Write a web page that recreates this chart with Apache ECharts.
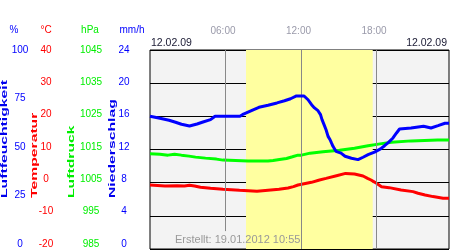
<!DOCTYPE html>
<html>
<head>
<meta charset="utf-8">
<script src="https://cdn.jsdelivr.net/npm/echarts@6/dist/echarts.min.js"></script>
<style>html,body{margin:0;padding:0;background:#fff}#c{width:450px;height:250px}</style>
</head>
<body>
<div id="c"></div>
<script>
// ---- data ----
const dateLabel = '12.02.09';
const createdLabel = 'Erstellt: 19.01.2012 10:55';
const xMax = 23.76;
const tickHours = [6, 12, 18];
const timeLabels = ['06:00', '12:00', '18:00'];
const daylight = [7.63, 17.70];

const humTicks = [0, 25, 50, 75, 100];
const tempTicks = [-20, -10, 0, 10, 20, 30, 40];
const presTicks = [985, 995, 1005, 1015, 1025, 1035, 1045];
const rainTicks = [0, 4, 8, 12, 16, 20, 24];

const humHours = [0,0.79,1.51,2.03,2.50,3.14,3.74,4.21,4.81,5.17,7.15,7.43,7.79,8.15,8.66,9.38,10.09,10.69,11.17,11.64,12.24,12.56,12.84,13.07,13.35,13.55,13.67,13.83,13.99,14.15,14.31,14.42,14.54,14.78,15.18,15.50,16.01,16.53,16.93,17.33,17.84,18.32,18.64,18.95,19.31,19.59,19.83,20.74,21.74,22.33,22.89,23.44,23.76];
const humidity = [66.7,65.7,64.7,63.7,62.7,61.8,62.8,63.8,65.0,66.7,66.7,67.8,68.8,69.8,71.2,72.2,73.4,74.5,75.5,76.9,76.9,75.0,72.5,70.9,69.5,67.5,65.0,62.5,59.9,56.6,54.9,53.3,51.6,49.1,48.2,46.6,45.6,44.9,46.1,47.4,48.7,50.3,51.9,53.6,55.8,58.3,60.3,60.8,61.7,60.8,62.0,63.2,63.2];

const presHours = [0,0.79,1.43,1.95,2.50,3.10,3.62,4.41,5.28,5.80,7.79,9.38,9.78,10.29,10.85,11.32,11.76,12.04,12.72,13.75,15.06,16.25,17.33,18.28,19.19,20.78,22.85,23.76];
const pressure = [1013.7,1013.6,1013.3,1013.6,1013.3,1013.0,1012.7,1012.4,1012.1,1011.8,1011.5,1011.5,1011.7,1012.0,1012.3,1012.8,1013.3,1013.3,1013.9,1014.3,1014.8,1015.4,1016.1,1016.7,1017.2,1017.6,1017.9,1017.9];

const tempHours = [0,1.19,2.15,2.74,3.14,3.54,4.01,4.81,5.80,7.11,8.50,9.38,10.25,10.97,11.40,11.76,12.83,13.47,13.99,14.82,15.54,16.25,16.93,17.29,17.56,17.88,18.40,19.00,19.95,20.90,21.30,21.86,22.49,23.29,23.76];
const temperature = [-0.7,-1.0,-0.9,-1.0,-0.8,-1.0,-1.4,-1.7,-2.0,-2.3,-2.6,-2.3,-2.0,-1.6,-1.2,-0.7,0.1,0.8,1.3,2.1,2.8,2.6,2.0,1.3,0.8,0.1,-1.2,-1.5,-2.2,-2.7,-3.2,-3.7,-4.2,-4.7,-4.7];

// ---- chart ----
const FONT = 'Liberation Sans, Arial, sans-serif';
const zip = (a, b) => a.map((v, i) => [v, b[i]]);
const rng = t => ({min: t[0], max: t[t.length - 1], interval: t[1] - t[0]});

function labelAxis(ticks, color, offset) {
  return Object.assign({
    type: 'value', gridIndex: 1, position: 'left', offset: offset,
    axisLine: {show: false}, axisTick: {show: false}, splitLine: {show: false},
    axisLabel: {color: color, fontSize: 10, fontFamily: FONT, margin: 0, align: 'center',
      formatter: v => { const i = ticks.indexOf(v); return i >= 0 ? String(ticks[i]) : ''; }}
  }, rng(ticks));
}

function vtitle(text, x, color) {
  return {type: 'text', x: x, y: 198, rotation: Math.PI / 2, scaleX: 1.85, scaleY: 1, z: 10,
    style: {text: text, fill: color, font: 'bold 8.5px ' + FONT, textAlign: 'left', textVerticalAlign: 'middle'}};
}
function htext(text, x, y, color, size, align) {
  return {type: 'text', x: x, y: y, z: 10,
    style: {text: text, fill: color, font: size + 'px ' + FONT, textAlign: align, textVerticalAlign: 'middle'}};
}

const chart = echarts.init(document.getElementById('c'), null, {renderer: 'canvas'});
chart.setOption({
  animation: false,
  grid: [
    {left: 150, top: 50, width: 299, height: 199, show: true, backgroundColor: '#f3f3f3', borderColor: '#000', borderWidth: 1, z: -2},
    {left: 150, top: 50, width: 10, height: 194, show: false}
  ],
  xAxis: [
    {type: 'value', gridIndex: 0, min: 0, max: xMax, interval: 6, position: 'top',
     axisLine: {show: false}, axisTick: {show: false}, splitLine: {show: false},
     axisLabel: {color: '#9a9aaa', fontSize: 10, fontFamily: FONT, margin: 14, padding: [0, 5, 0, 0],
       showMinLabel: false, showMaxLabel: false,
       formatter: v => { const i = tickHours.indexOf(v); return i >= 0 ? timeLabels[i] : ''; }}},
    {type: 'value', gridIndex: 1, show: false, min: 0, max: 1}
  ],
  yAxis: [
    Object.assign({type: 'value', gridIndex: 0, axisLine: {show: false}, axisTick: {show: false},
      axisLabel: {show: false}, splitLine: {show: true, lineStyle: {color: '#000', width: 1}}}, rng(tempTicks)),
    Object.assign({type: 'value', gridIndex: 0, show: false}, rng(humTicks)),
    Object.assign({type: 'value', gridIndex: 0, show: false}, rng(presTicks)),
    labelAxis(humTicks, '#0000ff', 130),
    labelAxis(tempTicks, '#ff0000', 104),
    labelAxis(presTicks, '#00ee00', 59),
    labelAxis(rainTicks, '#0000ff', 26)
  ],
  graphic: [
    htext('%', 14, 30, '#0000ff', 10, 'center'),
    htext('°C', 46, 30, '#ff0000', 10, 'center'),
    htext('hPa', 90, 30, '#00ee00', 10, 'center'),
    htext('mm/h', 132, 30, '#0000ff', 10, 'center'),
    htext(dateLabel, 151, 43, '#1a1a33', 10.5, 'left'),
    htext(dateLabel, 447, 43, '#1a1a33', 10.5, 'right'),
    htext(createdLabel, 175, 240, '#999999', 11, 'left'),
    vtitle('Luftfeuchtigkeit', 5, '#0000ee'),
    vtitle('Temperatur', 35, '#ff0000'),
    vtitle('Luftdruck', 71.5, '#00ee00'),
    vtitle('Niederschlag', 113, '#0000ee')
  ],
  series: [
    {type: 'line', xAxisIndex: 0, yAxisIndex: 1, data: [], z: -1, silent: true,
     markArea: {silent: true, itemStyle: {color: '#ffffa0'}, data: [[{xAxis: daylight[0]}, {xAxis: daylight[1]}]]},
     markLine: {silent: true, symbol: ['none', 'none'], label: {show: false},
       lineStyle: {color: '#888', width: 1, type: 'solid'},
       data: tickHours.map((h, i) => [{coord: [h, 100]}, {coord: [h, i === 0 ? 9 : 0]}])}},
    {name: 'Temperatur', type: 'line', xAxisIndex: 0, yAxisIndex: 0, data: zip(tempHours, temperature),
     showSymbol: false, lineStyle: {color: '#ff0000', width: 3}, itemStyle: {color: '#ff0000'}, z: 3},
    {name: 'Luftdruck', type: 'line', xAxisIndex: 0, yAxisIndex: 2, data: zip(presHours, pressure),
     showSymbol: false, lineStyle: {color: '#00ff00', width: 3}, itemStyle: {color: '#00ff00'}, z: 4},
    {name: 'Luftfeuchtigkeit', type: 'line', xAxisIndex: 0, yAxisIndex: 1, data: zip(humHours, humidity),
     showSymbol: false, lineStyle: {color: '#0000ff', width: 3}, itemStyle: {color: '#0000ff'}, z: 5}
  ]
});
</script>
</body>
</html>
